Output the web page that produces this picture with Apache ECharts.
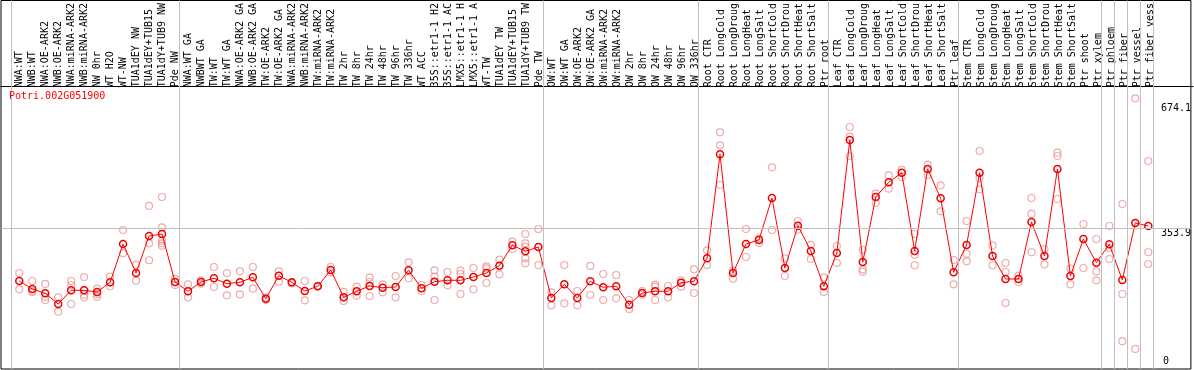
<!DOCTYPE html>
<html><head><meta charset="utf-8">
<script src="https://cdn.jsdelivr.net/npm/echarts@6/dist/echarts.min.js"></script>
<style>html,body{margin:0;padding:0;background:#fff}#c{width:1194px;height:370px}</style>
</head><body><div id="c"></div><script>
const geneId = 'Potri.002G051900';
const categories = [
'NWA:WT','NWB:WT','NWA:OE-ARK2','NWB:OE-ARK2','NWA:miRNA-ARK2','NWB:miRNA-ARK2','NW 0hr','WT H2O','WT-NW','TUA1dEY NW',
'TUA1dEY+TUB15','TUA1dY+TUB9 NW','Pde NW','NWA:WT GA','NWBWT GA','TW:WT','TW:WT GA','NWA:OE-ARK2 GA','NWB:OE-ARK2 GA','TW:OE-ARK2',
'TW:OE-ARK2 GA','NWA:miRNA-ARK2','NWB:miRNA-ARK2','TW:miRNA-ARK2','TW:miRNA-ARK2','TW 2hr','TW 8hr','TW 24hr','TW 48hr','TW 96hr',
'TW 336hr','WT ACC','35S::etr1-1 H2','35S::etr1-1 AC','LMX5::etr1-1 H','LMX5::etr1-1 A','WT-TW','TUA1dEY TW','TUA1dEY+TUB15','TUA1dY+TUB9 TW',
'Pde TW','OW:WT','OW:WT GA','OW:OE-ARK2','OW:OE-ARK2 GA','OW:miRNA-ARK2','OW:miRNA-ARK2','OW 2hr','OW 8hr','OW 24hr',
'OW 48hr','OW 96hr','OW 336hr','Root CTR','Root LongCold','Root LongDroug','Root LongHeat','Root LongSalt','Root ShortCold','Root ShortDrou',
'Root ShortHeat','Root ShortSalt','Ptr root','Leaf CTR','Leaf LongCold','Leaf LongDroug','Leaf LongHeat','Leaf LongSalt','Leaf ShortCold','Leaf ShortDrou',
'Leaf ShortHeat','Leaf ShortSalt','Ptr leaf','Stem CTR','Stem LongCold','Stem LongDroug','Stem LongHeat','Stem LongSalt','Stem ShortCold','Stem ShortDrou',
'Stem ShortHeat','Stem ShortSalt','Ptr shoot','Ptr xylem','Ptr phloem','Ptr fiber','Ptr vessel','Ptr fiber vess'
];
const meanValues = [
218.2,197.7,186.7,159.3,194.4,194.4,190.1,214.9,313.0,238.7,
333.5,338.6,215.7,191.9,215.7,225.2,211.3,214.9,227.7,172.9,
231.8,214.9,192.6,204.7,246.4,176.5,191.9,205.4,201.1,202.9,
245.6,199.5,216.4,220.0,220.0,228.5,238.7,257.4,309.7,294.3,
305.3,174.7,209.8,174.7,217.5,202.1,204.7,157.5,187.5,191.9,
191.9,213.9,217.5,276.4,542.8,238.7,313.0,323.3,430.8,251.5,
359.9,295.1,204.7,290.0,579.4,266.9,433.4,471.1,495.6,295.1,
505.1,430.1,240.5,310.5,495.6,282.3,223.4,223.4,369.4,282.3,
505.1,231.0,325.8,265.1,312.2,220.8,366.8,359.1
];
const replicateValues = [
[238.7,197.0],[218.2,192.6,190.1],[210.6,177.3,169.6],[176.5,139.6],[218.2,208.0,159.3],
[228.5,183.1,176.5],[198.5,184.9,178.0],[229.3,204.7],[348.9,289.2],[260.0,219.0],
[410.4,314.8,271.3],[433.4,355.8,321.5,314.8,308.7],[223.4,208.0],[209.8,176.5],[220.0,211.0],
[254.1,202.9],[238.7,181.6],[243.1,184.2],[254.1,198.5],[176.5,169.6],
[243.1,216.4],[214.9,212.0],[218.2,168.8],[204.7,206.0],[254.1,240.0],
[190.1,167.0],[203.6,180.6],[226.7,215.7,179.8],[209.8,189.3],[231.0,176.5],
[266.1,225.2],[208.0,192.6],[245.6,229.3,169.6],[241.3,207.2],[244.6,236.2,184.9],
[251.5,197.0],[255.9,250.8,213.1],[272.8,235.4],[318.9,300.2],[338.6,314.8,306.1,276.4,263.6],
[351.4,259.2],[189.3,156.0],[259.2,161.1],[192.6,156.0],[256.7,182.4],
[236.2,169.6],[233.6,173.9],[169.6,146.5],[192.6,183.1],[208.8,203.6,169.6],
[205.4,176.5],[220.0,203.6],[248.2,187.5],[296.9,259.2],[599.1,565.8,464.1],
[244.6,224.1],[351.4,279.7],[327.6,315.6],[509.5,348.9],[276.4,231.0],
[371.9,349.6],[310.5,274.6],[226.7,190.1],[307.9,264.3],[612.7,587.9,537.7],
[297.6,248.2,242.1],[441.9,418.0],[489.0,454.7],[502.6,483.9],[338.6,285.6,258.5],
[516.1,489.8],[463.4,396.8],[272.0,209.8],[371.9,288.2,268.7],[551.2,481.3,453.1],
[309.7,258.5],[264.3,241.3,161.9],[231.8,215.7],[430.8,389.9,291.8],[300.2,261.0],
[546.9,538.4,428.3],[249.7,209.8],[364.2,251.5],[325.8,243.1,220.0],[359.1,302.8,274.6],
[415.5,184.9,63.8],[686.2,44.1],[525.6,291.8,261.8]
];
const yTickLabels = [674.1, 353.9];
const yZeroLabel = [0];
const groupEnds = [-1, 12, 40, 52, 62, 72, 83, 84, 85, 86, 87];

const FONT = 'DejaVu Sans Mono';
const N = categories.length;
const step = 13, firstX = 19.3, W = 1194;
const xMin = -(firstX - 1) / step;
const xMax = xMin + (W - 2) / step;
const yMin = -7.2, yMax = 936.7;
const gridColor = '#c0c0c0';

const meanData = meanValues.map((v, i) => [i, v]);
const repData = [];
replicateValues.forEach((arr, i) => arr.forEach(v => repData.push([i, v])));

const chart = echarts.init(document.getElementById('c'), null, {renderer: 'canvas'});
chart.setOption({
  animation: false,
  title: {text: geneId, left: 9, top: 91, padding: 0,
    textStyle: {color: '#ff0000', fontFamily: FONT, fontSize: 10, fontWeight: 'normal'}},
  grid: [
    {left: 1, right: 1, top: 0.5, bottom: 1, show: true, borderColor: '#000', borderWidth: 1},
    {left: firstX - step / 2, width: step * N, top: 86, height: 283},
    {left: 1, right: 1, top: 86, height: 283},
    {left: 1, right: 1, top: 0.5, bottom: 1}
  ],
  xAxis: [
    {type: 'value', gridIndex: 0, min: xMin, max: xMax, show: false},
    {type: 'category', gridIndex: 1, position: 'top', data: categories, boundaryGap: true,
      axisLine: {show: false}, axisTick: {show: false}, splitLine: {show: false},
      axisLabel: {rotate: 90, interval: 0, margin: 2, fontFamily: FONT, fontSize: 10, color: '#000'}},
    {type: 'value', gridIndex: 2, position: 'top', min: 0, max: 1,
      axisLine: {show: true, onZero: false, lineStyle: {color: '#000', width: 1}}, axisTick: {show: false},
      axisLabel: {show: false}, splitLine: {show: false}},
    {type: 'value', gridIndex: 3, min: 0, max: 1, show: false}
  ],
  yAxis: [
    {type: 'value', gridIndex: 0, min: yMin, max: yMax, position: 'right',
      axisLine: {show: false}, axisTick: {show: false}, splitLine: {show: false},
      axisLabel: {customValues: yTickLabels, inside: true, align: 'left', verticalAlign: 'top', margin: 30,
        fontFamily: FONT, fontSize: 10, color: '#000', formatter: v => v.toFixed(1)}},
    {type: 'value', gridIndex: 1, show: false},
    {type: 'value', gridIndex: 2, min: 0, max: 1, show: false},
    {type: 'value', gridIndex: 3, min: yMin, max: yMax, position: 'right',
      axisLine: {show: false}, axisTick: {show: false}, splitLine: {show: false},
      axisLabel: {customValues: yZeroLabel, inside: true, align: 'left', verticalAlign: 'bottom', margin: 30,
        fontFamily: FONT, fontSize: 10, color: '#000', formatter: v => String(v)}}
  ],
  series: [
    {type: 'scatter', xAxisIndex: 0, yAxisIndex: 0, data: repData, symbol: 'circle', symbolSize: 7,
      itemStyle: {color: 'rgba(0,0,0,0)', borderColor: '#eb9595', borderWidth: 1.2},
      markLine: {silent: true, symbol: 'none', label: {show: false}, animation: false,
        lineStyle: {color: gridColor, width: 1, type: 'solid'},
        data: groupEnds.map(g => ({xAxis: g + 0.36})).concat([{yAxis: yTickLabels[1]}])}},
    {type: 'line', xAxisIndex: 0, yAxisIndex: 0, data: meanData, symbol: 'circle', symbolSize: 7,
      lineStyle: {color: '#ff0000', width: 1},
      itemStyle: {color: 'rgba(0,0,0,0)', borderColor: '#ee0000', borderWidth: 1.5}}
  ]
});
</script></body></html>
